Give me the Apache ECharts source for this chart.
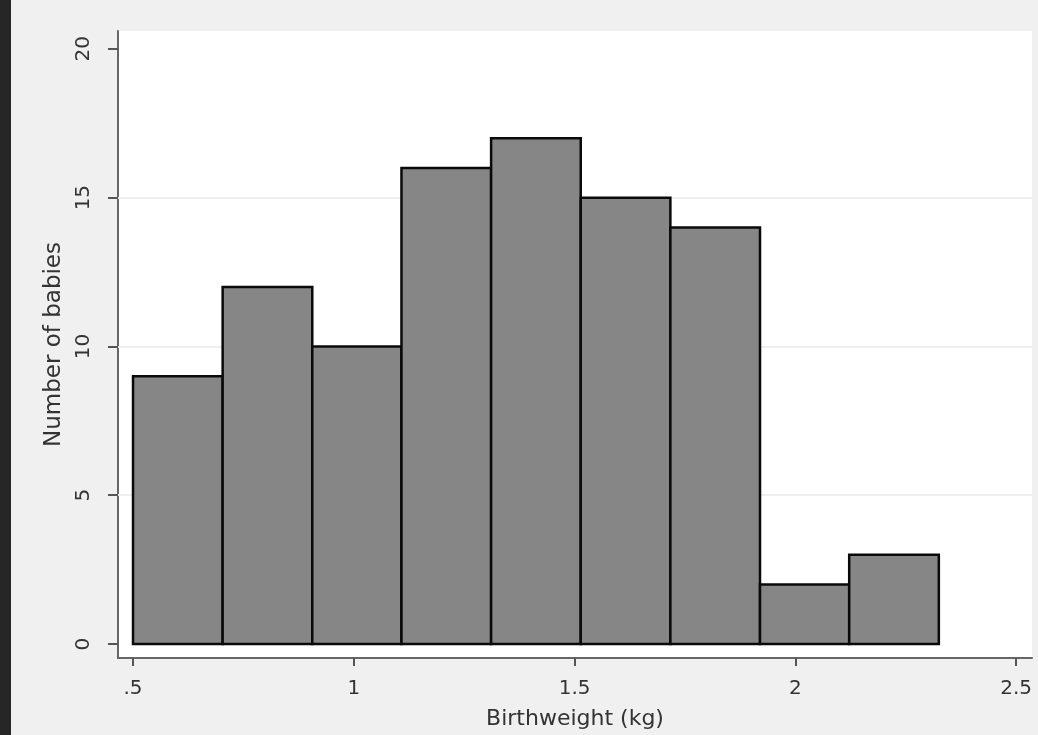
<!DOCTYPE html>
<html>
<head>
<meta charset="utf-8">
<script src="https://cdn.jsdelivr.net/npm/echarts@6/dist/echarts.min.js"></script>
<style>
  html, body { margin: 0; padding: 0; background: #f0f0f0; }
  #chart { position: absolute; left: 0; top: 0; width: 1038px; height: 735px; }
  #strip { position: absolute; left: 0; top: 0; width: 11px; height: 735px; background: #262626; z-index: 10; }
</style>
</head>
<body>
<div id="chart"></div>
<div id="strip"></div>
<script>
// Histogram data
const binEdges = [0.5, 0.703, 0.906, 1.108, 1.311, 1.514, 1.717, 1.920, 2.122, 2.325];
const counts = [9, 12, 10, 16, 17, 15, 14, 2, 3];
const xTickValues = [0.5, 1, 1.5, 2, 2.5];
const xTickLabels = ['.5', '1', '1.5', '2', '2.5'];
const yTickValues = [0, 5, 10, 15, 20];
const yGridValues = [5, 10, 15];

const rows = counts.map((c, i) => [binEdges[i], binEdges[i + 1], c]);

const chart = echarts.init(document.getElementById('chart'), null, { renderer: 'canvas' });
const textColor = '#333333';
const font = 'DejaVu Sans';

chart.setOption({
  backgroundColor: 'transparent',
  animation: false,
  grid: {
    left: 118, right: 6, top: 31, bottom: 77,
    show: true, backgroundColor: '#ffffff', borderWidth: 0
  },
  xAxis: {
    type: 'value',
    min: 0.466, max: 2.536,
    name: 'Birthweight (kg)',
    nameLocation: 'middle',
    nameGap: 50,
    nameTextStyle: { fontFamily: font, fontSize: 22, color: textColor },
    axisLine: { show: true, onZero: false, lineStyle: { color: '#666', width: 2 } },
    axisTick: { show: true, customValues: xTickValues, length: 8, lineStyle: { color: '#555', width: 2 } },
    axisLabel: {
      customValues: xTickValues,
      margin: 21,
      fontFamily: font, fontSize: 20, color: textColor,
      formatter: v => xTickLabels[xTickValues.indexOf(v)] ?? String(v)
    },
    splitLine: { show: false }
  },
  yAxis: {
    type: 'value',
    min: -0.47, max: 20.6,
    name: 'Number of babies',
    nameLocation: 'middle',
    nameGap: 52,
    nameRotate: 90,
    nameTextStyle: { fontFamily: font, fontSize: 23, color: textColor },
    axisLine: { show: true, onZero: false, lineStyle: { color: '#666', width: 2 } },
    axisTick: { show: true, customValues: yTickValues, length: 10, lineStyle: { color: '#555', width: 2 } },
    axisLabel: {
      customValues: yTickValues,
      rotate: 90,
      margin: 24,
      fontFamily: font, fontSize: 20, color: textColor
    },
    splitLine: { show: false }
  },
  series: [
    {
      type: 'line',
      data: [],
      z: 1,
      silent: true,
      markLine: {
        z: 1,
        silent: true,
        symbol: ['none', 'none'],
        label: { show: false },
        lineStyle: { color: '#eeeeee', width: 2, type: 'solid' },
        data: yGridValues.map(v => ({ yAxis: v }))
      }
    },
    {
      type: 'custom',
      z: 3,
      data: rows,
      encode: { x: [0, 1], y: 2 },
      renderItem: function (params, api) {
        const p0 = api.coord([api.value(0), 0]);
        const p1 = api.coord([api.value(1), api.value(2)]);
        return {
          type: 'rect',
          shape: { x: p0[0], y: p1[1], width: p1[0] - p0[0], height: p0[1] - p1[1] },
          style: { fill: '#868686', stroke: '#0a0a0a', lineWidth: 2.5 }
        };
      }
    }
  ]
});
</script>
</body>
</html>
